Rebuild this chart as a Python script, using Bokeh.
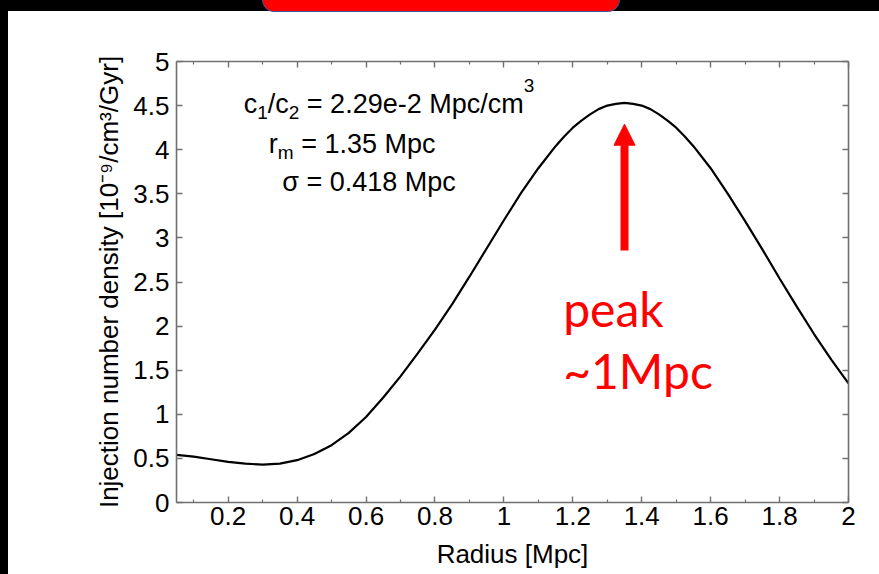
from bokeh.plotting import figure
from bokeh.models import (Range1d, LinearAxis, FixedTicker, CustomJSTickFormatter,
                          Label, Arrow, NormalHead, Div)
from bokeh.layouts import column, row
from bokeh.embed import file_html
from bokeh.resources import INLINE

# ---------------- data ----------------
radius = [0.05, 0.10, 0.15, 0.20, 0.25, 0.30, 0.35, 0.40, 0.45, 0.50,
          0.55, 0.60, 0.65, 0.70, 0.75, 0.80, 0.85, 0.90, 0.95, 1.00,
          1.05, 1.10, 1.15, 1.175, 1.20, 1.225, 1.25, 1.275, 1.30, 1.325,
          1.35, 1.375, 1.40, 1.425, 1.45, 1.475, 1.50, 1.525,
          1.55, 1.60, 1.65, 1.70, 1.75, 1.80, 1.85, 1.90, 1.95, 2.00]
density = [0.54, 0.52, 0.49, 0.46, 0.44, 0.43, 0.44, 0.48, 0.55, 0.65,
           0.79, 0.97, 1.19, 1.43, 1.69, 1.96, 2.25, 2.56, 2.88, 3.20,
           3.51, 3.79, 4.04, 4.15, 4.25, 4.33, 4.40, 4.46, 4.50, 4.52,
           4.53, 4.52, 4.50, 4.46, 4.40, 4.33, 4.25, 4.15,
           4.04, 3.79, 3.50, 3.19, 2.87, 2.54, 2.22, 1.91, 1.62, 1.35]

x_major_ticks = [0.2, 0.4, 0.6, 0.8, 1.0, 1.2, 1.4, 1.6, 1.8, 2.0]
x_minor_ticks = [0.1, 0.3, 0.5, 0.7, 0.9, 1.1, 1.3, 1.5, 1.7, 1.9]
y_major_ticks = [0, 0.5, 1, 1.5, 2, 2.5, 3, 3.5, 4, 4.5, 5]

x_title = "Radius [Mpc]"
y_title = "Injection number density [10\u207b\u2079/cm\u00b3/Gyr]"
peak_r = 1.35          # r_m
arrow_tail = 2.857
arrow_tip = 4.289

FONT = "Liberation Sans"
AXIS_COLOR = "#707070"

p = figure(width=871, height=560,
           x_range=Range1d(0.05, 2.0), y_range=Range1d(0, 5),
           output_backend="svg", toolbar_location=None,
           min_border_left=168, min_border_right=31,
           min_border_top=47, min_border_bottom=72,
           x_axis_label=x_title, y_axis_label=y_title)
p.outline_line_color = None
p.xgrid.visible = False
p.ygrid.visible = False
p.background_fill_color = "white"
p.border_fill_color = "white"

fmt = CustomJSTickFormatter(code="return String(Math.round(tick*100)/100);")
blank = CustomJSTickFormatter(code="return '';")


def style_axis(ax, minor):
    ax.axis_line_color = AXIS_COLOR
    ax.axis_line_width = 1.6
    ax.major_tick_line_color = AXIS_COLOR
    ax.major_tick_line_width = 1.4
    ax.minor_tick_line_color = AXIS_COLOR
    ax.minor_tick_line_width = 1.2
    ax.major_tick_in = 6
    ax.major_tick_out = 0
    ax.minor_tick_in = 3 if minor else 0
    ax.minor_tick_out = 0
    ax.major_label_text_font = FONT
    ax.major_label_text_font_size = "26px"
    ax.major_label_text_color = "black"
    ax.axis_label_text_font = FONT
    ax.axis_label_text_font_size = "26px"
    ax.axis_label_text_font_style = "normal"
    ax.axis_label_text_color = "black"


xt = FixedTicker(ticks=x_major_ticks, minor_ticks=x_minor_ticks)
yt = FixedTicker(ticks=y_major_ticks, minor_ticks=[])

xa = p.xaxis[0]
xa.ticker = xt
xa.formatter = fmt
style_axis(xa, True)
xa.major_label_standoff = 4
xa.axis_label_standoff = 11

ya = p.yaxis[0]
ya.ticker = yt
ya.formatter = fmt
style_axis(ya, False)
ya.major_label_standoff = 7
ya.axis_label_standoff = 6

top_ax = LinearAxis(ticker=FixedTicker(ticks=x_major_ticks, minor_ticks=x_minor_ticks),
                    formatter=blank)
style_axis(top_ax, True)
top_ax.major_label_standoff = 0
p.add_layout(top_ax, "above")

right_ax = LinearAxis(ticker=FixedTicker(ticks=y_major_ticks, minor_ticks=[]),
                      formatter=blank)
style_axis(right_ax, False)
right_ax.major_label_standoff = 0
p.add_layout(right_ax, "right")

p.line(radius, density, line_color="black", line_width=2.2)

# ---------------- parameter box (with sub/superscripts) ----------------
ADV = {' ': 278, '/': 278, '=': 584, '.': 278, '-': 333, 'M': 833, 'c': 500,
       'e': 556, 'm': 833, 'p': 556, 'r': 333, '\u03c3': 571}
for d in "0123456789":
    ADV[d] = 556
BASE_FIX = 0.36   # lift so that the glyph baseline sits on the given y


def add_runs(x, y, runs):
    off = 0.0
    for text, size, dy in runs:
        lead = len(text) - len(text.lstrip(" "))
        off += lead * ADV[' '] / 1000.0 * size
        body = text.lstrip(" ")
        p.add_layout(Label(x=x, y=y, x_offset=off, y_offset=dy + BASE_FIX * size,
                           text=body,
                           text_font=FONT, text_font_size=f"{size}px",
                           text_color="black", text_baseline="alphabetic",
                           text_align="left"))
        off += sum(ADV.get(ch, 556) for ch in body) / 1000.0 * size


MAIN, SMALL = 27, 19
add_runs(0.245, 4.407, [("c", MAIN, 0), ("1", SMALL, -6), ("/c", MAIN, 0),
                        ("2", SMALL, -6), (" = 2.29e-2 Mpc/cm", MAIN, 0),
                        ("3", SMALL, 21)])
add_runs(0.318, 3.960, [("r", MAIN, 0), ("m", SMALL, -6),
                        (" = 1.35 Mpc", MAIN, 0)])
add_runs(0.357, 3.518, [("\u03c3 = 0.418 Mpc", MAIN, 0)])

# ---------------- red annotation ----------------
p.add_layout(Arrow(end=NormalHead(size=21, fill_color="#ff0000", line_color="#ff0000",
                                  line_width=1),
                   x_start=peak_r, y_start=arrow_tail, x_end=peak_r, y_end=arrow_tip,
                   line_color="#ff0000", line_width=8))
RED_SIZE = 48
for txt, yy in (("peak", 2.00), ("~1Mpc", 1.304)):
    p.add_layout(Label(x=1.172, y=yy, y_offset=BASE_FIX * RED_SIZE, text=txt,
                       text_font="Lato", text_font_size=f"{RED_SIZE}px",
                       text_color="#ff0000",
                       text_baseline="alphabetic", text_align="left"))

# ---------------- slide frame pieces ----------------
top_html = (
    '<div style="position:relative;width:879px;height:14px;overflow:hidden;'
    'background:linear-gradient(to bottom,#000 0px,#000 11px,#fff 11px,#fff 14px);">'
    '<div style="position:absolute;left:0;top:0;width:8px;height:14px;background:#000;"></div>'
    '<div style="position:absolute;left:262px;top:-3px;width:358px;height:15px;'
    'background:#ff0000;border:1.5px solid #3a5a96;border-radius:0 0 12px 12px;"></div>'
    '</div>'
)
top_band = Div(text=top_html, width=879, height=14, margin=0)
left_band = Div(text="", width=8, height=560, margin=0,
                styles={"background-color": "black"})

layout = column(top_band, row(left_band, p, spacing=0), spacing=0)

open("out.html", "w").write(file_html(layout, INLINE))
